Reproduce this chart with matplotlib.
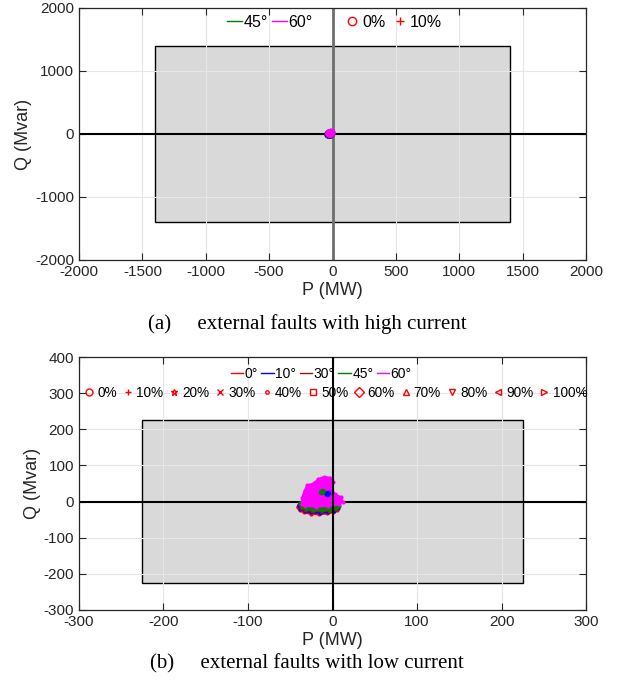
import numpy as np
import matplotlib.pyplot as plt
from matplotlib.lines import Line2D
from matplotlib.patches import Rectangle

plt.rcParams['font.family'] = ['Liberation Sans', 'DejaVu Sans']
plt.rcParams['axes.unicode_minus'] = False

angles = ['0°', '10°', '30°', '45°', '60°']
angle_colors = ['#FF0000', '#0000FF', '#8B1A1A', '#007F00', '#FF00FF']
percents = ['0%', '10%', '20%', '30%', '40%', '50%', '60%', '70%', '80%', '90%', '100%']
percent_markers = ['o', '+', '*', 'x', '.', 's', 'D', '^', 'v', '<', '>']

# (a) high current: small cluster near origin (MW, Mvar)
high_P = {
    '0°': [-34, -28, -22, -18],
    '10°': [-32, -26, -20, -17],
    '30°': [-30, -25, -20, -16],
    '45°': [-29, -24, -19, -15],
    '60°': [-28, -23, -18, -14],
}
high_Q = {
    '0°': [2, -4, 0, 8],
    '10°': [6, 0, 4, 12],
    '30°': [10, 4, 8, 16],
    '45°': [14, 8, 12, 20],
    '60°': [18, 12, 16, 24],
}
high_limit = 1400

# (b) low current: trajectories (outer loops)
low_P = {
    '0°': [-41, -39, -34, -26, -16, -6, 1, 5, 4, -1, -11, -23, -33, -39, -41],
    '10°': [-40, -38, -33, -25, -15, -5, 2, 6, 5, 0, -10, -22, -32, -38, -40],
    '30°': [-39, -37, -32, -24, -14, -4, 3, 7, 6, 0, -9, -21, -31, -37, -39],
    '45°': [-38, -36, -31, -23, -13, -3, 4, 8, 7, 1, -8, -20, -30, -36, -38],
    '60°': [-36, -36, -33, -30, -22, -17, -10, -3, 0, -3, 3, 10, 12, 8, -5, -20, -32, -36],
}
low_Q = {
    '0°': [-14, -24, -30, -34, -35, -33, -29, -22, -14, -8, -6, -6, -8, -11, -14],
    '10°': [-10, -20, -26, -30, -31, -29, -25, -18, -10, -4, -2, -2, -4, -7, -10],
    '30°': [-7, -17, -23, -26, -27, -25, -21, -14, -6, 0, 2, 2, 0, -3, -7],
    '45°': [-4, -14, -20, -23, -24, -22, -18, -11, -3, 3, 5, 5, 3, 0, -4],
    '60°': [-8, 10, 30, 45, 50, 62, 68, 66, 55, 42, 20, 12, 0, -8, -12, -14, -12, -8],
}
# inner spots visible through the 60° trajectory
inner_P = {'45°': [-14, -12, -10], '10°': [-6, -5]}
inner_Q = {'45°': [27, 30, 26], '10°': [22, 25]}
low_limit = 225


def style_axes(ax):
    ax.grid(True, color='#e6e6e6', linewidth=0.8, zorder=0)
    ax.tick_params(direction='in', top=True, right=True, length=5,
                   labelsize=11, colors='#262626')
    for s in ax.spines.values():
        s.set_color('#262626')
        s.set_linewidth(0.9)
    ax.set_xlabel('P (MW)', fontsize=13, color='#262626', labelpad=2)
    ax.set_ylabel('Q (Mvar)', fontsize=13, color='#262626', labelpad=2)


fig = plt.figure(figsize=(6.25, 6.88), dpi=100)

# ---- (a) ----
ax1 = fig.add_axes([0.1264, 0.6221, 0.8112, 0.3663])
ax1.add_patch(Rectangle((-high_limit, -high_limit), 2 * high_limit, 2 * high_limit,
                        facecolor='#d9d9d9', edgecolor='black', linewidth=1, zorder=1))
ax1.axhline(0, color='black', linewidth=1.5, zorder=2)
ax1.axvline(0, color='#6e6e6e', linewidth=2, zorder=2)
for a, c in zip(angles, angle_colors):
    ax1.plot(high_P[a], high_Q[a], 'o', color=c, markersize=5, zorder=3)
ax1.set_xlim(-2000, 2000)
ax1.set_ylim(-2000, 2000)
ax1.set_xticks(np.arange(-2000, 2001, 500))
ax1.set_yticks(np.arange(-2000, 2001, 1000))
style_axes(ax1)

h_ang = [Line2D([], [], color=angle_colors[i], lw=1) for i in (3, 4)]
fig.legend(h_ang, [angles[3], angles[4]], loc='center', bbox_to_anchor=(0.432, 0.968),
           ncol=2, frameon=False, fontsize=11.5, handlelength=0.9,
           handletextpad=0.1, columnspacing=0.3)
h_pct = [Line2D([], [], color='red', marker=percent_markers[i], ls='none',
                markerfacecolor='none', markersize=6) for i in (0, 1)]
fig.legend(h_pct, percents[:2], loc='center', bbox_to_anchor=(0.630, 0.968),
           ncol=2, frameon=False, fontsize=11.5, handlelength=0.8,
           handletextpad=0.2, columnspacing=0.5)

fig.text(0.491, 0.529, '(a)     external faults with high current', ha='center', va='center',
         fontsize=15, family='Liberation Serif')

# ---- (b) ----
ax2 = fig.add_axes([0.1264, 0.1134, 0.8112, 0.3677])
ax2.add_patch(Rectangle((-low_limit, -low_limit), 2 * low_limit, 2 * low_limit,
                        facecolor='#d9d9d9', edgecolor='black', linewidth=1, zorder=1))
ax2.axhline(0, color='black', linewidth=1.5, zorder=2)
ax2.axvline(0, color='black', linewidth=1.5, zorder=4)
for a, c in zip(angles, angle_colors):
    ax2.fill(low_P[a], low_Q[a], facecolor=c, edgecolor=c, linewidth=1.5, zorder=3)
    ax2.plot(low_P[a], low_Q[a], '.', color=c, markersize=4, zorder=3)
for a in inner_P:
    c = angle_colors[angles.index(a)]
    ax2.plot(inner_P[a], inner_Q[a], 'o', color=c, markersize=3, zorder=3)
ax2.set_xlim(-300, 300)
ax2.set_ylim(-300, 400)
ax2.set_xticks(np.arange(-300, 301, 100))
ax2.set_yticks(np.arange(-300, 401, 100))
style_axes(ax2)

h_ang2 = [Line2D([], [], color=c, lw=1) for c in angle_colors]
fig.legend(h_ang2, angles, loc='center', bbox_to_anchor=(0.514, 0.4564),
           ncol=5, frameon=False, fontsize=10, handlelength=0.9,
           handletextpad=0.1, columnspacing=0.25)
h_pct2 = [Line2D([], [], color='red', marker=m, ls='none', markerfacecolor='none',
                 markersize=5) for m in percent_markers]
fig.legend(h_pct2, percents, loc='center', bbox_to_anchor=(0.538, 0.4288),
           ncol=11, frameon=False, fontsize=9.8, handlelength=0.6,
           handletextpad=0.3, columnspacing=0.5)

fig.text(0.491, 0.0349, '(b)     external faults with low current', ha='center', va='center',
         fontsize=15, family='Liberation Serif')

fig.savefig('out.png', dpi=100)
